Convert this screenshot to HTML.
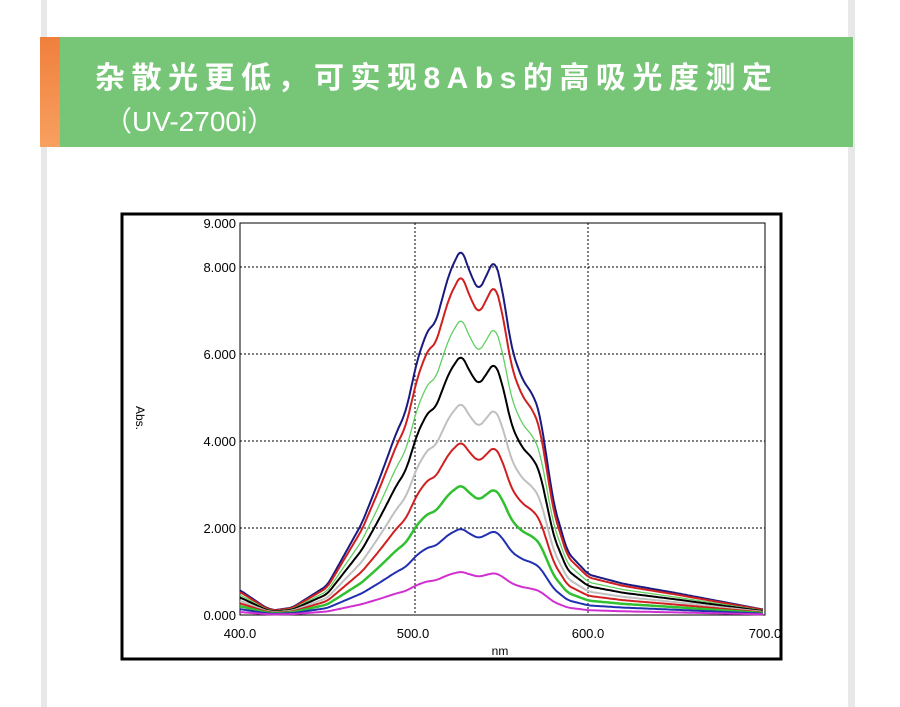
<!DOCTYPE html>
<html><head><meta charset="utf-8"><style>
body{margin:0;width:900px;height:707px;background:#fff;position:relative;overflow:hidden;font-family:"Liberation Sans","Noto Sans CJK SC",sans-serif}
.bl{position:absolute;top:0;left:41px;width:6px;height:707px;background:#e8e8e8}
.br{position:absolute;top:0;left:848px;width:7px;height:707px;background:#e8e8e8}
.band{position:absolute;left:40px;top:37px;width:813px;height:110px;background:#77c677}
.stripe{position:absolute;left:40px;top:37px;width:20px;height:110px;background:linear-gradient(#f07f3c,#f8a060)}
.t1{position:absolute;left:95px;top:53px;color:#fff;font-weight:bold;font-size:30px;white-space:nowrap;letter-spacing:6.5px}
.t2{position:absolute;left:104px;top:100px;color:#fff;font-size:28px;white-space:nowrap}
</style></head><body>
<div class="bl"></div><div class="br"></div>
<div class="band"></div><div class="stripe"></div>
<div class="t1">杂散光更低，可实现8Abs的高吸光度测定</div>
<div class="t2">（UV-2700i）</div>
<svg id="c" width="900" height="707" style="position:absolute;left:0;top:0" font-family="Liberation Sans, sans-serif">
<rect x="122" y="214" width="659" height="445" fill="#fff" stroke="#000" stroke-width="3"/>
<rect x="240" y="223" width="525" height="392" fill="none" stroke="#000" stroke-width="1"/>
<g stroke="#000" stroke-dasharray="2,2" stroke-width="1">
<line x1="240" y1="267" x2="765" y2="267"/><line x1="240" y1="354" x2="765" y2="354"/>
<line x1="240" y1="441" x2="765" y2="441"/><line x1="240" y1="528" x2="765" y2="528"/>
<line x1="415" y1="223" x2="415" y2="615"/><line x1="588" y1="223" x2="588" y2="615"/>
</g>
<g font-size="13" text-anchor="end" fill="#000">
<text x="236" y="228">9.000</text><text x="236" y="272">8.000</text><text x="236" y="359">6.000</text>
<text x="236" y="446">4.000</text><text x="236" y="533">2.000</text><text x="236" y="620">0.000</text>
</g>
<g font-size="13" text-anchor="middle">
<text x="240" y="638">400.0</text><text x="413" y="638">500.0</text><text x="588" y="638">600.0</text><text x="765" y="638">700.0</text>
<text x="500" y="655" font-size="12">nm</text>
</g>
<text transform="translate(136,418) rotate(90)" font-size="12" text-anchor="middle">Abs.</text>
<g id="curves" fill="none" stroke-width="2" stroke-linejoin="round"></g>
</svg>
<script>
var P=[[400,0.03],[415,0.01],[430,0.02],[450,0.08],[470,0.25],[480,0.37],[490,0.5],[495,0.55],[502,0.7],[508,0.78],[512,0.79],[520,0.93],[527,1.0],[532,0.93],[537,0.88],[542,0.93],[546,0.97],[550,0.9],[556,0.72],[562,0.64],[568,0.6],[572,0.55],[580,0.3],[588,0.17],[600,0.11],[620,0.085],[650,0.06],[700,0.015]];
var S=[[8.45,"#1a1a80"],[7.85,"#d02020"],[6.85,"#60d060",1.3],[6.0,"#000"],[4.9,"#c0c0c0"],[4.0,"#d02020"],[3.0,"#30c030",2.5],[2.0,"#2030b0"],[1.0,"#d030d0"]];
function f0(x){for(var i=0;i<P.length-1;i++){if(x<=P[i+1][0]){var t=(x-P[i][0])/(P[i+1][0]-P[i][0]);return P[i][1]+t*(P[i+1][1]-P[i][1]);}}return P[P.length-1][1];}
function f(x){var s=0,n=0;for(var k=-2;k<=2;k++){var xx=Math.min(700,Math.max(400,x+k));s+=f0(xx);n++;}return s/n;}
var g=document.getElementById("curves"),h="";
S.forEach(function(s){var d="";for(var x=400;x<=700;x+=1){var v=s[0]*f(x);if(x<420)v+=0.3*Math.max(0,(420-x)/20)*(s[0]/8);var px=240+(x-400)*1.743,py=615-v*43.5;d+=(x==400?"M":"L")+px.toFixed(1)+","+py.toFixed(1);}
h+='<path d="'+d+'" stroke="'+s[1]+'" stroke-width="'+(s[2]||2)+'"/>';});
g.innerHTML=h;
</script>
</body></html>
